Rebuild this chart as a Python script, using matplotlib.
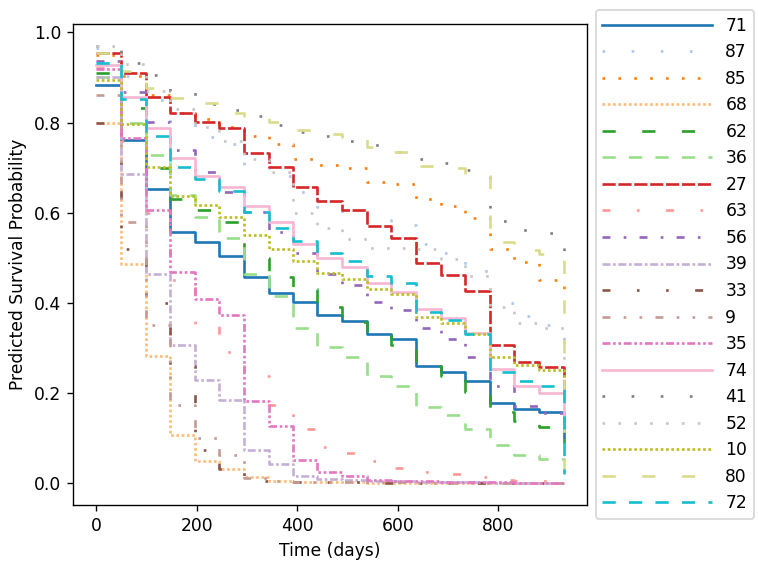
import matplotlib
matplotlib.use("Agg")
from matplotlib import pyplot as plt

# time grid (days) shared by all predicted curves
times = [0, 49, 98, 147, 196, 245, 294, 343, 392, 440, 489, 538, 587, 636, 685, 734, 783, 832, 881, 930]

s71 = [0.884, 0.761, 0.653, 0.557, 0.535, 0.504, 0.457, 0.422, 0.401, 0.373, 0.359, 0.330, 0.320, 0.261, 0.246, 0.227, 0.177, 0.165, 0.158, 0.10]
s87 = [0.965, 0.903, 0.849, 0.80, 0.768, 0.753, 0.706, 0.682, 0.645, 0.612, 0.599, 0.584, 0.573, 0.53, 0.51, 0.47, 0.40, 0.37, 0.35, 0.28]
s85 = [0.949, 0.903, 0.86, 0.822, 0.807, 0.789, 0.770, 0.752, 0.720, 0.705, 0.698, 0.668, 0.664, 0.631, 0.615, 0.589, 0.52, 0.49, 0.45, 0.42]
s68 = [0.80, 0.487, 0.283, 0.106, 0.049, 0.031, 0.013, 0.005, 0.003, 0.002, 0.002, 0.001, 0.001, 0.001, 0.001, 0.001, 0.0005, 0.0004, 0.0003, 0.0002]
s62 = [0.91, 0.833, 0.70, 0.63, 0.605, 0.579, 0.50, 0.457, 0.43, 0.39, 0.358, 0.329, 0.307, 0.26, 0.237, 0.203, 0.157, 0.138, 0.125, 0.09]
s36 = [0.90, 0.80, 0.728, 0.64, 0.59, 0.544, 0.465, 0.415, 0.344, 0.303, 0.280, 0.237, 0.215, 0.17, 0.152, 0.121, 0.084, 0.062, 0.053, 0.05]
s27 = [0.954, 0.910, 0.857, 0.820, 0.802, 0.787, 0.732, 0.701, 0.658, 0.626, 0.607, 0.570, 0.543, 0.489, 0.462, 0.426, 0.307, 0.268, 0.258, 0.20]
s63 = [0.92, 0.76, 0.60, 0.45, 0.351, 0.29, 0.237, 0.174, 0.12, 0.08, 0.066, 0.05, 0.033, 0.024, 0.02, 0.013, 0.007, 0.005, 0.004, 0.002]
s56 = [0.937, 0.868, 0.802, 0.74, 0.69, 0.645, 0.601, 0.557, 0.51, 0.465, 0.439, 0.402, 0.384, 0.344, 0.319, 0.279, 0.215, 0.171, 0.156, 0.12]
s39 = [0.90, 0.686, 0.463, 0.307, 0.230, 0.185, 0.074, 0.042, 0.016, 0.01, 0.008, 0.006, 0.004, 0.003, 0.002, 0.002, 0.001, 0.001, 0.001, 0.0005]
s33 = [0.80, 0.52, 0.40, 0.26, 0.074, 0.031, 0.006, 0.003, 0.002, 0.002, 0.002, 0.001, 0.001, 0.001, 0.001, 0.0005, 0.0005, 0.0004, 0.0003, 0.0002]
s9 = [0.861, 0.58, 0.351, 0.174, 0.10, 0.062, 0.012, 0.005, 0.003, 0.003, 0.002, 0.002, 0.002, 0.001, 0.001, 0.001, 0.0008, 0.0006, 0.0005, 0.0003]
s35 = [0.918, 0.765, 0.606, 0.469, 0.408, 0.373, 0.182, 0.127, 0.051, 0.025, 0.015, 0.008, 0.005, 0.004, 0.003, 0.002, 0.002, 0.001, 0.001, 0.0005]
s74 = [0.927, 0.857, 0.787, 0.722, 0.682, 0.657, 0.614, 0.579, 0.530, 0.499, 0.480, 0.443, 0.424, 0.386, 0.366, 0.334, 0.254, 0.215, 0.200, 0.15]
s41 = [0.97, 0.933, 0.905, 0.87, 0.842, 0.828, 0.815, 0.795, 0.78, 0.77, 0.758, 0.751, 0.735, 0.720, 0.710, 0.695, 0.581, 0.562, 0.556, 0.47]
s52 = [0.969, 0.93, 0.87, 0.83, 0.79, 0.76, 0.72, 0.69, 0.60, 0.567, 0.542, 0.522, 0.521, 0.520, 0.497, 0.459, 0.391, 0.356, 0.344, 0.27]
s10 = [0.894, 0.797, 0.701, 0.638, 0.616, 0.591, 0.550, 0.520, 0.493, 0.467, 0.454, 0.430, 0.419, 0.369, 0.355, 0.332, 0.281, 0.263, 0.251, 0.20]
s80 = [0.954, 0.915, 0.876, 0.855, 0.844, 0.822, 0.815, 0.802, 0.783, 0.775, 0.767, 0.745, 0.734, 0.704, 0.70, 0.682, 0.535, 0.517, 0.509, 0.02]
s72 = [0.932, 0.852, 0.770, 0.701, 0.675, 0.649, 0.602, 0.565, 0.538, 0.511, 0.493, 0.459, 0.443, 0.380, 0.362, 0.332, 0.247, 0.226, 0.215, 0.02]

labels = ['71', '87', '85', '68', '62', '36', '27', '63', '56', '39', '33', '9', '35', '74', '41', '52', '10', '80', '72']
curves = [s71, s87, s85, s68, s62, s36, s27, s63, s56, s39, s33, s9, s35, s74, s41, s52, s10, s80, s72]

linestyles = [
    'solid',
    (0, (1, 10)),
    (0, (1, 5)),
    (0, (1, 1)),
    (0, (5, 10)),
    (0, (5, 5)),
    (0, (5, 1)),
    (0, (3, 10, 1, 10)),
    (0, (3, 5, 1, 5)),
    (0, (3, 1, 1, 1)),
    (0, (3, 10, 1, 10, 1, 10)),
    (0, (3, 5, 1, 5, 1, 5)),
    (0, (3, 1, 1, 1, 1, 1)),
]

dpi = 123
fig = plt.figure(figsize=(758 / dpi, 563 / dpi), dpi=dpi)
ax = fig.add_axes([0.0963, 0.103, 0.6781, 0.8544])

cmap = plt.get_cmap('tab20')
for i, (lab, s) in enumerate(zip(labels, curves)):
    ax.step(times, s, where='post', label=lab, color=cmap(i % 20),
            linestyle=linestyles[i % len(linestyles)], linewidth=1.55)

ax.set_xlabel('Time (days)')
ax.set_ylabel('Predicted Survival Probability')
ax.legend(loc='center left', bbox_to_anchor=(1, 0.5), handlelength=6.4)

fig.savefig('out.png', dpi=dpi)
